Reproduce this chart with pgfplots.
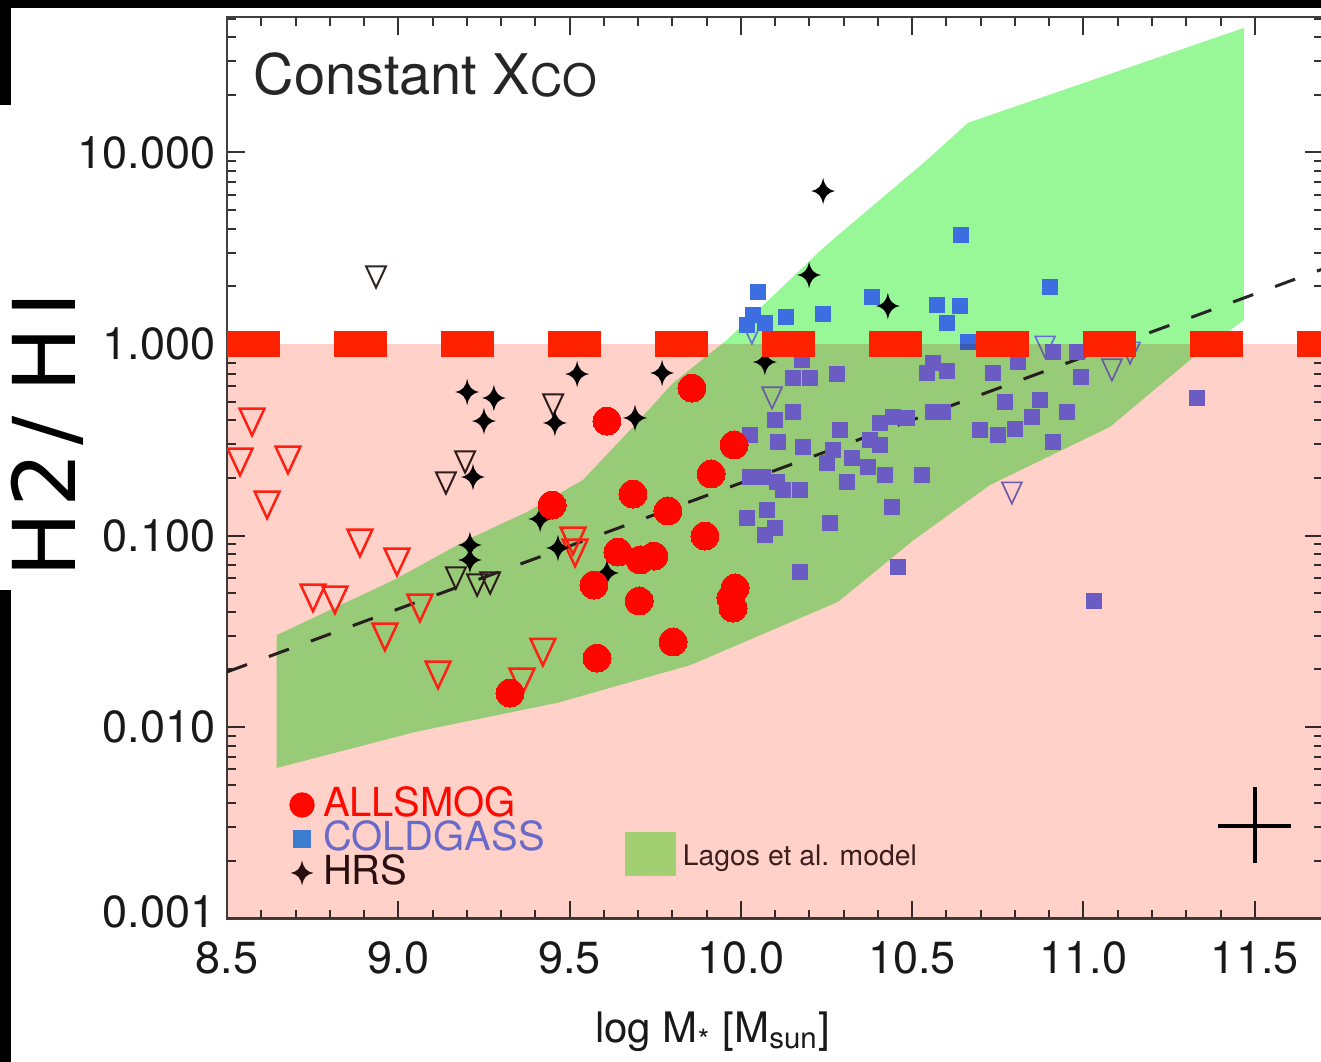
\documentclass[border=0pt]{standalone}
\usepackage{fontspec}
\setmainfont{TeX Gyre Heros}
\newfontfamily\labfont{DejaVu Sans}
\usepackage{pgfplots}
\pgfplotsset{compat=1.18}
\definecolor{pinkc}{RGB}{255,209,201}
\definecolor{bandgreen}{RGB}{152,248,152}
\definecolor{allred}{RGB}{255,8,0}
\definecolor{trired}{RGB}{255,40,25}
\definecolor{cgblue}{RGB}{60,110,225}
\definecolor{cgbluelow}{RGB}{106,113,247}
\definecolor{cgtext}{RGB}{106,106,200}
\definecolor{legblue}{RGB}{60,125,210}
\definecolor{hrsdark}{RGB}{40,14,14}
\definecolor{redline}{RGB}{255,34,0}
\definecolor{lagosleg}{RGB}{163,207,115}
\definecolor{lagostext}{RGB}{60,30,30}
\definecolor{tribk}{RGB}{45,35,35}
\definecolor{triblue}{RGB}{105,110,215}

\pgfdeclareplotmark{dtri}{%
  \pgfpathmoveto{\pgfqpoint{-0.93\pgfplotmarksize}{\pgfplotmarksize}}%
  \pgfpathlineto{\pgfqpoint{0.93\pgfplotmarksize}{\pgfplotmarksize}}%
  \pgfpathlineto{\pgfqpoint{0pt}{-\pgfplotmarksize}}%
  \pgfpathclose
  \pgfusepathqstroke}
\pgfdeclareplotmark{star4}{%
  \pgfpathmoveto{\pgfqpoint{0pt}{\pgfplotmarksize}}%
  \pgfpathcurveto{\pgfqpoint{0.12\pgfplotmarksize}{0.35\pgfplotmarksize}}{\pgfqpoint{0.35\pgfplotmarksize}{0.12\pgfplotmarksize}}{\pgfqpoint{0.9\pgfplotmarksize}{0pt}}%
  \pgfpathcurveto{\pgfqpoint{0.35\pgfplotmarksize}{-0.12\pgfplotmarksize}}{\pgfqpoint{0.12\pgfplotmarksize}{-0.35\pgfplotmarksize}}{\pgfqpoint{0pt}{-\pgfplotmarksize}}%
  \pgfpathcurveto{\pgfqpoint{-0.12\pgfplotmarksize}{-0.35\pgfplotmarksize}}{\pgfqpoint{-0.35\pgfplotmarksize}{-0.12\pgfplotmarksize}}{\pgfqpoint{-0.9\pgfplotmarksize}{0pt}}%
  \pgfpathcurveto{\pgfqpoint{-0.35\pgfplotmarksize}{0.12\pgfplotmarksize}}{\pgfqpoint{-0.12\pgfplotmarksize}{0.35\pgfplotmarksize}}{\pgfqpoint{0pt}{\pgfplotmarksize}}%
  \pgfpathclose
  \pgfusepathqfill}

\pgfplotsset{
  markleg/.style={legend image code/.code={\draw[##1] plot coordinates {(0pt,0pt)};}},
  lagosimg/.style={legend image code/.code={\fill[##1] (0pt,-6.6pt) rectangle (15.3pt,6.6pt);}},
}

\begin{document}
\begin{tikzpicture}
\useasboundingbox (0,0) rectangle (396.3pt,318.6pt);
\begin{axis}[
  at={(68.1pt,43.05pt)}, anchor=south west,
  scale only axis, width=328.89pt, height=270.45pt,
  xmin=8.5, xmax=11.7, ymode=log, ymin=0.001, ymax=51,
  clip marker paths=true,
  xtick={8.5,9,9.5,10,10.5,11,11.5},
  xticklabels={8.5,9.0,9.5,10.0,10.5,11.0,11.5},
  minor x tick num=4,
  yticklabel={\pgfmathparse{exp(\tick)}\ifdim\tick pt<-6pt\raisebox{4pt}{\pgfmathprintnumber[fixed,fixed zerofill,precision=3,assume math mode=true]{\pgfmathresult}}\else\pgfmathprintnumber[fixed,fixed zerofill,precision=3,assume math mode=true]{\pgfmathresult}\fi},
  tick align=inside,
  major tick length=5.4pt, minor tick length=2.7pt,
  tick style={black!80, line width=0.6pt},
  axis line style={black!75, line width=0.7pt},
  tick label style={font=\fontsize{13.5}{14}\selectfont, text=black!90},
  xticklabel style={yshift=-3.3pt},
  xlabel={log M\textsubscript{*} [M\textsubscript{sun}]},
  xlabel style={at={(axis description cs:0.443,-0.138)}, anchor=base, font=\fontsize{12.6}{13}\selectfont, text=black!90},
  legend style={at={(axis description cs:0.0575,0.1448)}, anchor=north west, draw=none, fill=none, inner sep=0pt, outer sep=0pt, row sep=0pt, column sep=2.7pt, font=\fontsize{12}{12}\selectfont, nodes={inner sep=0pt, text height=8.6pt, text depth=1.6pt}},
  legend cell align=left,
]
\addlegendimage{only marks, mark=*, color=allred, mark options={draw=allred, fill=allred}, mark size=3.6pt, markleg}
\addlegendentry{\textcolor{allred}{ALLSMOG}}
\addlegendimage{only marks, mark=square*, color=legblue, mark options={draw=legblue, fill=legblue}, mark size=2.4pt, markleg}
\addlegendentry{\textcolor{cgtext}{COLDGASS}}
\addlegendimage{only marks, mark=star4, color=hrsdark, mark options={fill=hrsdark}, mark size=3.8pt, markleg}
\addlegendentry{\textcolor{hrsdark}{HRS}}

% Lagos et al. model band
\addplot[draw=none, fill=bandgreen, forget plot] coordinates {
(8.645,0.0302) (8.987,0.0586) (9.200,0.0948) (9.376,0.1327) (9.539,0.195) (9.685,0.369) (9.802,0.626) (9.959,1.05) (10.243,3.21) (10.543,9.14) (10.663,14.3) (11.468,44.7)
(11.468,1.335) (11.311,0.825) (11.077,0.369) (10.727,0.1836) (10.505,0.0948) (10.283,0.0450) (9.854,0.0211) (9.466,0.0134) (9.049,0.00942) (8.645,0.00611)
} -- cycle;

% fit line
\addplot[black!85, line width=0.9pt, dash pattern=on 6.4pt off 7pt, forget plot] coordinates {(8.5,0.0194) (11.7,2.47)};

% HRS upper limits
\addplot[only marks, color=tribk, mark=dtri, mark size=3.2pt, mark options={draw=tribk, line width=0.6pt}, forget plot] coordinates {
(8.935,2.238) (9.452,0.480) (9.195,0.242) (9.139,0.188) (9.168,0.060) (9.230,0.0551) (9.268,0.0565)};

% COLDGASS upper limits
\addplot[only marks, color=triblue, mark=dtri, mark size=3.2pt, mark options={draw=triblue, line width=0.5pt}, forget plot] coordinates {
(10.091,0.5224) (10.888,0.9645) (11.083,0.732) (11.136,0.897) (10.791,0.1667) (10.032,1.141)};

% ALLSMOG upper limits
\addplot[only marks, color=trired, mark=dtri, mark size=4.0pt, mark options={draw=trired, line width=0.75pt}, forget plot] coordinates {
(8.573,0.3915) (8.538,0.242) (8.678,0.248) (8.617,0.1443) (8.888,0.0914) (8.996,0.0727) (8.751,0.0472) (8.815,0.0461) (9.063,0.0418) (8.961,0.0295) (9.116,0.0187) (9.361,0.01718) (9.422,0.0246) (9.510,0.0936) (9.516,0.0810)};

% COLDGASS detections (above unity)
\addplot[only marks, color=cgblue, mark=square*, mark size=2.25pt, mark options={draw=cgblue, fill=cgblue, line width=0pt}, forget plot] coordinates {
(10.643,3.71) (10.902,1.985) (10.050,1.868) (10.383,1.760) (10.240,1.434) (10.132,1.384) (10.035,1.417) (10.018,1.257) (10.070,1.287) (10.573,1.598) (10.640,1.579) (10.602,1.287) (10.663,1.024)};

% COLDGASS detections (below unity)
\addplot[only marks, color=cgbluelow, mark=square*, mark size=2.25pt, mark options={draw=cgbluelow, fill=cgbluelow, line width=0pt}, forget plot] coordinates {
(10.178,0.825) (10.152,0.6645) (10.202,0.6645) (10.281,0.697) (10.561,0.796) (10.543,0.706) (10.602,0.723) (10.736,0.706)
(10.152,0.4416) (10.100,0.401) (10.108,0.3078) (10.027,0.335) (10.181,0.290) (10.289,0.3556) (10.406,0.387) (10.444,0.416) (10.485,0.411) (10.561,0.4416) (10.590,0.4416)
(10.377,0.3153) (10.406,0.297) (10.269,0.2795) (10.251,0.239) (10.324,0.254) (10.371,0.228) (10.421,0.207) (10.310,0.190) (10.529,0.207) (10.698,0.3556) (10.751,0.335)
(10.027,0.202) (10.065,0.202) (10.105,0.190) (10.123,0.173) (10.173,0.173) (10.441,0.141) (10.260,0.1162) (10.018,0.1234) (10.076,0.136) (10.070,0.1006) (10.100,0.1094) (10.173,0.0645) (10.459,0.0685)
(10.911,0.908) (10.809,0.805) (10.981,0.908) (10.993,0.673) (10.771,0.498) (10.873,0.510) (10.952,0.4416) (10.850,0.416) (10.800,0.360) (10.911,0.3078) (11.331,0.5224) (11.031,0.0455)};

% HRS detections
\addplot[only marks, mark=star4, mark size=4pt, color=black, mark options={fill=black}, forget plot] coordinates {
(10.240,6.29) (10.199,2.293) (10.429,1.579) (10.070,0.805) (9.522,0.697) (9.770,0.706) (9.201,0.5615) (9.279,0.5224) (9.250,0.396) (9.457,0.387) (9.691,0.411) (9.218,0.202) (9.209,0.0892) (9.209,0.0745) (9.414,0.122) (9.466,0.0861) (9.609,0.0637)};

% ALLSMOG detections
\addplot[only marks, color=allred, mark=*, mark size=4.2pt, mark options={draw=allred, fill=allred, line width=0pt}, forget plot] coordinates {
(9.857,0.589) (9.609,0.396) (9.980,0.297) (9.913,0.2096) (9.685,0.1647) (9.449,0.1443) (9.787,0.1343) (9.895,0.0994) (9.641,0.0820) (9.706,0.0745) (9.746,0.0781) (9.571,0.0551) (9.703,0.0455) (9.983,0.0532) (9.971,0.0472) (9.977,0.0418) (9.802,0.0278) (9.580,0.0229) (9.326,0.01505)};

% typical error
\addplot[black, line width=1.2pt, forget plot] coordinates {(11.393,0.00304) (11.606,0.00304)};
\addplot[black, line width=1.2pt, forget plot] coordinates {(11.5,0.00195) (11.5,0.00486)};

% region below unity
\addplot[draw=none, fill=pinkc, blend mode=multiply, forget plot] coordinates {(8.4,0.0009) (11.8,0.0009) (11.8,1) (8.4,1)} -- cycle;

% unity line
\addplot[redline, line width=7.9pt, dash pattern=on 15.9pt off 16.2pt, forget plot] coordinates {(8.5,1) (11.7,1)};

\node[anchor=base west, inner sep=0pt, font=\fontsize{16.8}{17}\selectfont, text=black!85] at (axis description cs:0.0237,0.9135) {Constant X\raisebox{-0.6pt}{\fontsize{13.4}{14}\selectfont CO}};
\end{axis}

\begin{axis}[
  at={(68.1pt,43.05pt)}, anchor=south west,
  scale only axis, width=328.89pt, height=270.45pt,
  xmin=0, xmax=1, ymin=0, ymax=1, hide axis,
  legend style={at={(axis description cs:0.363,0.096)}, anchor=north west, draw=none, fill=none, inner sep=0pt, outer sep=0pt, column sep=2.1pt, font=\fontsize{8.5}{9}\selectfont, nodes={inner sep=0pt}},
  legend cell align=left,
]
\addlegendimage{area legend, fill=lagosleg, draw=none, lagosimg}
\addlegendentry{\textcolor{lagostext}{\raisebox{-2.4pt}{Lagos et al. model}}}
\end{axis}

% screenshot frame
\fill[black] (0,316.2pt) rectangle (396.3pt,318.6pt);
\fill[black] (0,287.1pt) rectangle (3.3pt,318.6pt);
\fill[black] (0,0) rectangle (3.3pt,141.6pt);
\node[rotate=90, anchor=base west, inner sep=0pt, font=\labfont\fontsize{26}{26}\selectfont] at (22.5pt,145.2pt) {H\kern1.5pt2\kern2pt/\kern7pt H\kern3pt I};
\end{tikzpicture}
\end{document}
